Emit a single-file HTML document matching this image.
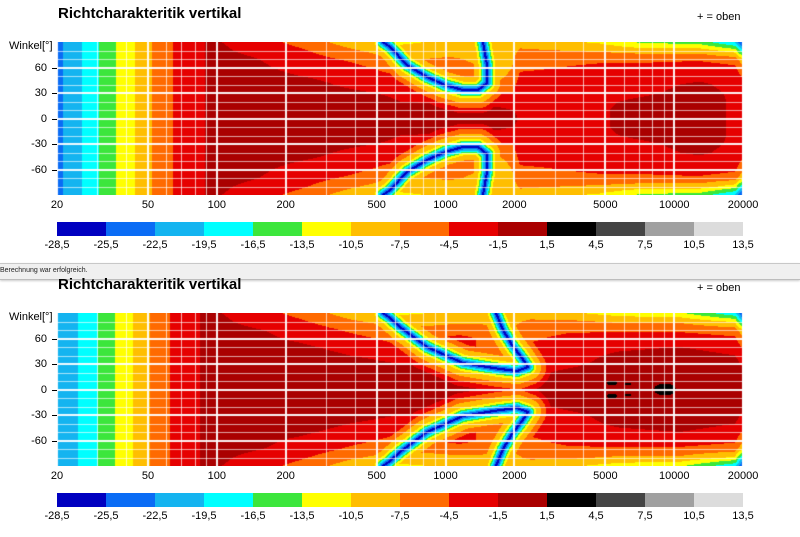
<!DOCTYPE html>
<html><head><meta charset="utf-8">
<style>
html,body{margin:0;padding:0;background:#fff;}
body{width:800px;height:537px;position:relative;overflow:hidden;font-family:"Liberation Sans",Arial,sans-serif;color:#000;}
.t{position:absolute;white-space:nowrap;font-size:11px;line-height:12px;}
.title{position:absolute;font-weight:bold;font-size:15px;line-height:16px;left:58px;}
canvas{position:absolute;left:57px;}
.cb{position:absolute;left:57px;width:686px;height:14px;display:flex;}
.cb div{flex:1;}
.bar{position:absolute;left:0;top:263px;width:800px;height:15px;background:#f0f0f0;border-top:1px solid #c8c8c8;border-bottom:1px solid #bdbdbd;box-shadow:0 1px 2px #ccc;}
</style></head><body>
<div class="bar"><span style="position:absolute;left:0;top:3px;font-size:7px;line-height:8px;color:#222;">Berechnung war erfolgreich.</span></div>
<div id="root"></div>
<canvas id="c1" width="686" height="153" style="top:42px"></canvas>
<canvas id="c2" width="686" height="153" style="top:313px"></canvas>
<script>
var PAL=['#0000c0','#0a6cf5','#14b4f0','#00ffff','#3ce63c','#ffff00','#ffbe00','#ff6a00','#e60000','#aa0000','#000000','#444444','#a0a0a0','#dcdcdc'];
var LBL=['-28,5','-25,5','-22,5','-19,5','-16,5','-13,5','-10,5','-7,5','-4,5','-1,5','1,5','4,5','7,5','10,5','13,5'];
var root=document.getElementById('root');
function add(html){root.insertAdjacentHTML('beforeend',html);}
function xf(f){return 57+228.7*Math.log10(f/20);}
[0,271].forEach(function(o,ci){
  add('<div class="title" style="top:'+(6+o)+'px">Richtcharakteritik vertikal</div>');
  add('<div class="t" style="left:697px;top:'+(11+o)+'px">+ = oben</div>');
  add('<div class="t" style="left:9px;top:'+(40+o)+'px">Winkel[°]</div>');
  var cy=118.5+o;
  [[60,'60'],[30,'30'],[0,'0'],[-30,'-30'],[-60,'-60']].forEach(function(a){
    var y=cy-a[0]*0.85;
    add('<div class="t" style="left:0;width:47px;text-align:right;top:'+(y-6)+'px">'+a[1]+'</div>');
    add('<div style="position:absolute;left:52px;width:5px;height:1px;background:#000;top:'+Math.round(y)+'px"></div>');
  });
  [20,50,100,200,500,1000,2000,5000,10000,20000].forEach(function(f){
    var x=xf(f);
    add('<div class="t" style="left:'+(x-30)+'px;width:60px;text-align:center;top:'+(199+o)+'px">'+f+'</div>');
  });
  var s='<div class="cb" style="top:'+(222+o)+'px">';
  for(var i=0;i<14;i++)s+='<div style="background:'+PAL[i]+'"></div>';
  add(s+'</div>');
  LBL.forEach(function(l,i){
    add('<div class="t" style="left:'+(57+49*i-25)+'px;width:50px;text-align:center;top:'+(239+o)+'px">'+l+'</div>');
  });
});

function hexrgb(h){return [parseInt(h.substr(1,2),16),parseInt(h.substr(3,2),16),parseInt(h.substr(5,2),16)];}
var RGB=PAL.map(hexrgb);

var P1=[
[57,[0.5,0.5,0.5,0.5,0.5,0.5,0.5,0.5,0.5,0.5]],
[205,[0.5,0.5,0.5,0.5,0.5,0.5,0.3,0,-0.3,-0.8]],
[245,[0.5,0.5,0.5,0.5,0,0,-0.5,-1,-2,-2.5]],
[300,[0.5,0.5,0.5,0,-0.5,-1.5,-2.5,-3,-4,-5.5]],
[350,[0.5,0.5,0,-1,-2,-2.5,-3.5,-5,-7,-9]],
[400,[0.5,0,-1.5,-2,-3,-4.5,-6,-8,-9.5,-11]],
[450,[0,-0.5,-2,-3.5,-6,-7,-6,-7,-9,-10]],
[500,[0,-1,-2.5,-4.5,-7,-8,-8.5,-9,-9,-10]],
[512,[-0.5,-1.5,-3,-4.5,-6,-7,-7.5,-8,-9,-10]],
[520,[-2,-2,-2,-2.5,-3,-4,-5,-5.5,-7,-9]],
[600,[-2,-2,-2,-2.5,-3,-3.5,-4,-5,-8,-11]],
[640,[0,0,-1,-2,-2.5,-3,-4,-5,-9,-14]],
[700,[0,0,0,-0.5,-1,-2.5,-3,-5,-9,-15]],
[735,[-2,-2,-2,-2,-2.5,-3,-4,-6,-12,-20]],
[743,[-3,-3,-3,-3,-4,-5,-7,-10,-20,-27]]];
var P2=[
[57,[0.5,0.5,0.5,0.5,0.5,0.5,0.5,0.5,0.5,0.5]],
[205,[0.5,0.5,0.5,0.5,0.5,0.5,0.3,0,-0.3,-0.8]],
[245,[0.5,0.5,0.5,0.5,0,0,-0.5,-1,-2,-2.5]],
[300,[0.5,0.5,0.5,0,0,-1,-2,-2.5,-4,-5.5]],
[350,[0.5,0.5,0,-0.5,-1.5,-2.5,-3.5,-5,-7,-9]],
[400,[0.5,0.5,0,-1.5,-2.5,-4,-5.5,-7,-9,-11]],
[460,[0.5,0,-1,-2,-4.5,-3.5,-3.5,-6,-8,-10]],
[500,[0,-0.5,-1.5,-3,-5.5,-6,-6,-7,-8,-10]],
[515,[0,-1,-2,-4,-6,-6.5,-6.5,-7,-8,-10]],
[530,[-0.5,-1,-2,-2.5,-3,-4,-5,-6,-7,-9]],
[570,[0,0,-1,-2,-2.5,-3,-3.5,-5,-7,-10]],
[620,[0.8,0.5,0,-0.5,-1,-2,-3,-5,-8,-12]],
[680,[0.8,0.5,0,0,-0.5,-1.5,-3,-5,-8,-13]],
[735,[0,0,0,-0.5,-1.5,-2.5,-4,-6,-11,-19]],
[743,[-1,-1,-1,-2,-3,-5,-7,-10,-20,-27]]];
var LF1=[[57,-25],[63,-22.5],[82,-19.5],[99,-16.5],[116,-13.5],[135,-10.5],[152,-7.5],[173,-4.5],[205,-1.5],[235,0.5],[800,0.5]];
var LF2=[[57,-21],[78,-19.5],[98,-16.5],[115,-13.5],[133,-10.5],[150,-7.5],[170,-4.5],[200,-1.5],[230,0.5],[800,0.5]];
var C1=[[383,42],[390,47],[407,65],[427,77],[445,85],[463,90],[478,90],[487,83],[487,65],[483,42]];
var C2=[[383,313],[390,318],[400,327],[427,347],[463,363],[500,369],[517,371],[528,367],[522,358],[512,345],[503,330],[496,313]];

function lin(T,x){
  if(x<=T[0][0])return T[0][1];
  for(var k=0;k<T.length-1;k++){if(x<=T[k+1][0]){var t=(x-T[k][0])/(T[k+1][0]-T[k][0]);return T[k][1]*(1-t)+T[k+1][1]*t;}}
  return T[T.length-1][1];
}
function prof(P,x,th){
  var a=Math.abs(th)/10; if(a>9)a=9;
  var i0=Math.floor(a),i1=Math.min(9,i0+1),fa=a-i0;
  function col(c){return c[i0]*(1-fa)+c[i1]*fa;}
  for(var k=0;k<P.length-1;k++){
    if(x<=P[k+1][0]){var t=(x-P[k][0])/(P[k+1][0]-P[k][0]);return col(P[k][1])*(1-t)+col(P[k+1][1])*t;}
  }
  return col(P[P.length-1][1]);
}
function segd(px,py,ax,ay,bx,by){
  var dx=bx-ax,dy=by-ay,l=dx*dx+dy*dy,t=((px-ax)*dx+(py-ay)*dy)/l;
  t=Math.max(0,Math.min(1,t));var ex=ax+t*dx-px,ey=ay+t*dy-py;return Math.sqrt(ex*ex+ey*ey);
}
function halo(d){return d<7?-28+2.4*d:-11.2+0.6*(d-7);}
function render(id,P,C,top,LF,blobs){
  var cv=document.getElementById(id),ctx=cv.getContext('2d');
  var img=ctx.createImageData(686,153),d=img.data;
  var cy=top+76.5;
  var segs=[];
  for(var i=0;i<C.length-1;i++){
    segs.push([C[i][0],C[i][1],C[i+1][0],C[i+1][1]]);
    segs.push([C[i][0],2*cy-C[i][1],C[i+1][0],2*cy-C[i+1][1]]);
  }
  for(var yy=0;yy<153;yy++){
    var y=top+yy+0.5, th=(cy-y)/0.85;
    for(var xx=0;xx<686;xx++){
      var x=57+xx+0.5;
      var v=Math.min(prof(P,x,th),lin(LF,x));
      if(x>320&&x<580){
        var md=1e9;
        for(var s=0;s<segs.length;s++){var q=segs[s];var dd=segd(x,y,q[0],q[1],q[2],q[3]);if(dd<md)md=dd;}
        v=Math.min(v,halo(md));
      }
      for(var b=0;b<blobs.length;b++){var B=blobs[b];var ex=(x-B[0])/B[2],ey=(y-B[1])/B[3];if(ex*ex+ey*ey<1)v=3;}
      var bi=Math.floor((v+28.5)/3);if(bi<0)bi=0;if(bi>13)bi=13;
      var c=RGB[bi],p=(yy*686+xx)*4;
      d[p]=c[0];d[p+1]=c[1];d[p+2]=c[2];d[p+3]=255;
    }
  }
  ctx.putImageData(img,0,0);
  var fs=[];
  [10,100,1000,10000].forEach(function(dec){for(var m=1;m<10;m++){var f=dec*m;if(f>=20&&f<=20000)fs.push(f);}});
  fs.push(20000);
  fs.forEach(function(f){
    var x=228.7*Math.log10(f/20);var maj=[20,50,100,200,500,1000,2000,5000,10000,20000].indexOf(f)>=0;
    ctx.fillStyle=maj?'rgba(255,255,255,0.95)':'rgba(255,255,255,0.7)';
    ctx.fillRect(Math.round(x)-(maj?1:0),0,maj?2:1,153);
  });
  for(var a=-80;a<=80;a+=10){
    var yv=76.5-a*0.85;var maj=(a%30===0);
    ctx.fillStyle=maj?'rgba(255,255,255,0.95)':'rgba(255,255,255,0.65)';
    ctx.fillRect(0,Math.round(yv)-(maj?1:0),686,maj?2:1);
  }
}
render('c1',P1,C1,42,LF1,[]);
render('c2',P2,C2,313,LF2,[[665,389.5,11,6],[612,383,5,2.5],[612,396,5,2.5],[628,384,3,1.5],[628,395,3,1.5],[737,389.5,5,1]]);
</script>
</body></html>
